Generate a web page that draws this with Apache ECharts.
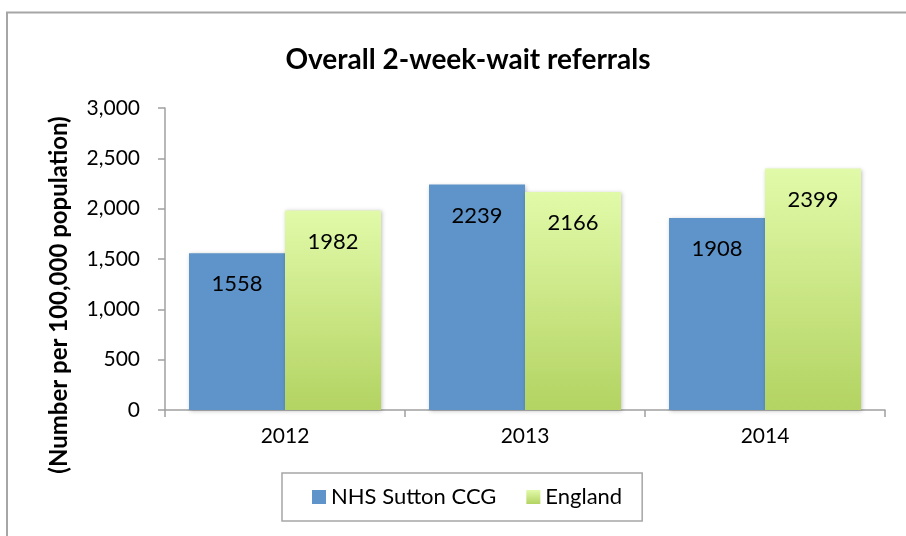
<!DOCTYPE html>
<html><head><meta charset="utf-8">
<script src="https://cdn.jsdelivr.net/npm/echarts@6/dist/echarts.min.js"></script>
<style>html,body{margin:0;padding:0;background:#fff}#c{width:906px;height:536px}</style>
</head><body><div id="c"></div>
<script>
const categories = ['2012', '2013', '2014'];
const suttonValues = [1558, 2239, 1908];
const englandValues = [1982, 2166, 2399];
const yTicks = [0, 500, 1000, 1500, 2000, 2500, 3000];
const seriesNames = ['NHS Sutton CCG', 'England'];

const font = 'Lato, "Open Sans", sans-serif';
const chart = echarts.init(document.getElementById('c'), null, {renderer: 'canvas'});
const labelCfg = {show: true, position: 'insideTop', distance: 20, color: '#000', fontSize: 22, fontFamily: font};
chart.setOption({
  animation: false,
  graphic: [{type: 'rect', shape: {x: 7, y: 12.5, width: 920, height: 540}, style: {fill: 'none', stroke: '#a6a6a6', lineWidth: 2}, z: -1}],
  title: {text: 'Overall 2-week-wait referrals', left: 463, top: 41, textAlign: 'center',
    textStyle: {fontFamily: font, fontWeight: 'bold', fontSize: 28, color: '#000'}},
  legend: {left: 282, top: 473, width: 361, height: 50, itemWidth: 14, itemHeight: 14, itemGap: 30,
    padding: [13, 20, 13, 30], borderColor: '#a6a6a6', borderWidth: 1.5, icon: 'rect',
    textStyle: {fontFamily: font, fontSize: 22, color: '#000'}, data: seriesNames},
  grid: {left: 165, right: 21, top: 108, bottom: 126, containLabel: false},
  xAxis: {type: 'category', data: categories,
    axisLine: {lineStyle: {color: '#a0a0a0', width: 1.5}},
    axisTick: {show: true, length: 7, alignWithLabel: false, lineStyle: {color: '#a0a0a0', width: 1.5}},
    axisLabel: {fontFamily: font, fontSize: 21, color: '#000', margin: 16}},
  yAxis: {type: 'value', min: 0, max: 3000, interval: 500,
    name: '(Number per 100,000 population)', nameLocation: 'middle', nameGap: 94, nameRotate: 90,
    nameTextStyle: {fontFamily: font, fontWeight: 'bold', fontSize: 24, color: '#000', padding: [0, 72, 0, 0]},
    splitLine: {show: false},
    axisLine: {show: true, lineStyle: {color: '#a0a0a0', width: 1.5}},
    axisTick: {show: true, length: 7, lineStyle: {color: '#a0a0a0', width: 1.5}},
    axisLabel: {fontFamily: font, fontSize: 21, color: '#000', margin: 25,
      formatter: v => yTicks.includes(v) ? v.toLocaleString('en-US') : ''}},
  series: [
    {name: seriesNames[0], type: 'bar', data: suttonValues, barWidth: 96, barGap: '0%',
      itemStyle: {color: '#5e94c9', shadowColor: 'rgba(0,0,0,0.25)', shadowBlur: 4, shadowOffsetX: 1, shadowOffsetY: 1},
      label: labelCfg},
    {name: seriesNames[1], type: 'bar', data: englandValues, barWidth: 96,
      itemStyle: {color: new echarts.graphic.LinearGradient(0, 0, 0, 1, [{offset: 0, color: '#e1faa9'}, {offset: 1, color: '#b3d362'}]),
        shadowColor: 'rgba(0,0,0,0.25)', shadowBlur: 4, shadowOffsetX: 1, shadowOffsetY: 1},
      label: labelCfg}
  ]
});
</script></body></html>
